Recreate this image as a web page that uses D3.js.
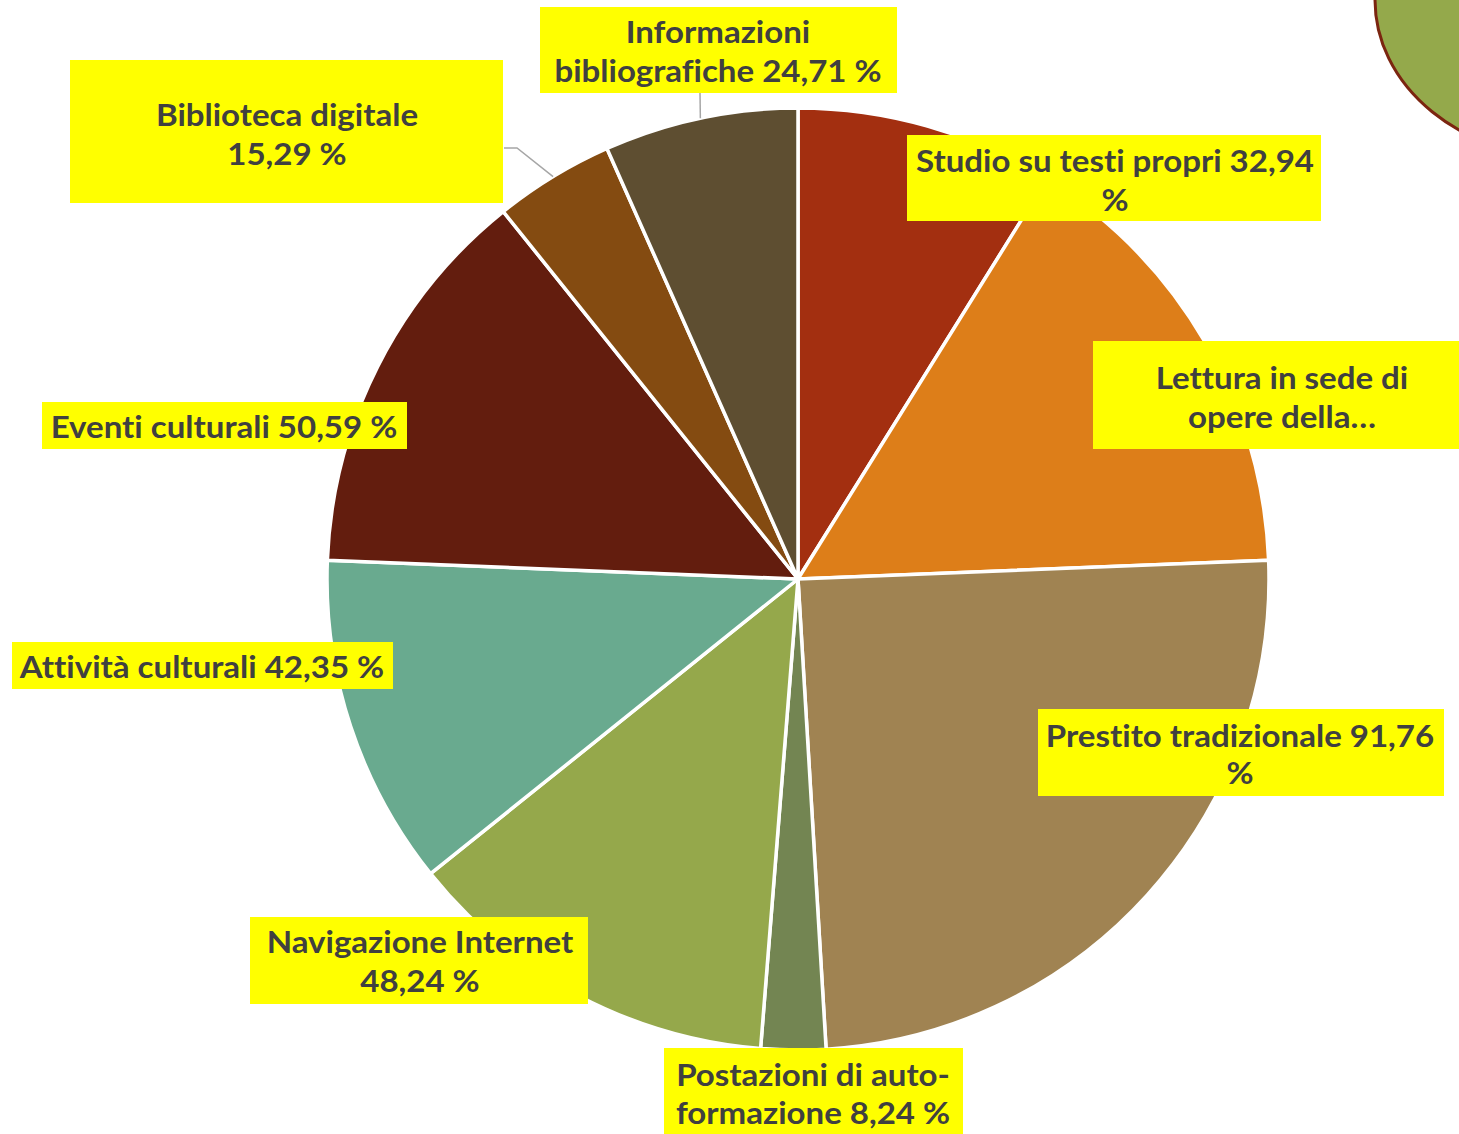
<!DOCTYPE html>
<html>
<head>
<meta charset="utf-8">
<script src="https://cdn.jsdelivr.net/npm/d3@7"></script>
<style>
  html, body { margin: 0; padding: 0; background: #ffffff; }
  svg { display: block; }
  svg text { font-variant-ligatures: none; font-feature-settings: "liga" 0, "clig" 0; }
</style>
</head>
<body>
<svg id="chart" width="1459" height="1134"></svg>
<script>
// Servizi utilizzati in biblioteca (% di risposte)
const categories = [
  "Studio su testi propri",
  "Lettura in sede di opere della biblioteca",
  "Prestito tradizionale",
  "Postazioni di auto-formazione",
  "Navigazione Internet",
  "Attività culturali",
  "Eventi culturali",
  "Biblioteca digitale",
  "Informazioni bibliografiche"
];
const values = [32.94, 57.65, 91.76, 8.24, 48.24, 42.35, 50.59, 15.29, 24.71];
const sliceColors = [
  "#a32f10", "#dd7e19", "#a08352", "#738552", "#95a84b",
  "#69aa8f", "#631d0e", "#844b11", "#5e4e31"
];

// Label text as it is wrapped inside each callout
const fmt = v => d3.format(".2f")(v).replace(".", ",");
const labelLines = [
  [`${categories[0]} ${fmt(values[0])}`, "%"],
  ["Lettura in sede di", "opere della…"],
  [`${categories[2]} ${fmt(values[2])}`, "%"],
  ["Postazioni di auto-", `formazione ${fmt(values[3])} %`],
  [categories[4], `${fmt(values[4])} %`],
  [`${categories[5]} ${fmt(values[5])} %`],
  [`${categories[6]} ${fmt(values[6])} %`],
  [categories[7], `${fmt(values[7])} %`],
  ["Informazioni", `bibliografiche ${fmt(values[8])} %`]
];

// Callout boxes: x, y, w, h, text centre x, first baseline, line step, leader
const boxes = [
  { x: 907,  y: 135,  w: 414, h: 86,  cx: 1115, by: 172,  step: 39 },
  { x: 1093, y: 341,  w: 366, h: 108, cx: 1282, by: 389,  step: 39 },
  { x: 1038, y: 709,  w: 406, h: 87,  cx: 1240, by: 747,  step: 37 },
  { x: 664,  y: 1048, w: 299, h: 86,  cx: 813,  by: 1086, step: 38 },
  { x: 250,  y: 917,  w: 338, h: 87,  cx: 420,  by: 953,  step: 39 },
  { x: 12,   y: 642,  w: 381, h: 47,  cx: 202,  by: 678,  step: 0 },
  { x: 42,   y: 402,  w: 365, h: 47,  cx: 224,  by: 438,  step: 0 },
  { x: 70,   y: 60,   w: 433, h: 143, cx: 287,  by: 126,  step: 39, leader: [[504, 148], [517, 148]] },
  { x: 540,  y: 7,    w: 357, h: 86,  cx: 718,  by: 43,   step: 39, leader: [[700, 93]] }
];

const svg = d3.select("#chart");
const cx = 798, cy = 579, R = 471;

// Decorative shape in the top-right corner
svg.append("ellipse")
  .attr("cx", 1570).attr("cy", 0)
  .attr("rx", 195).attr("ry", 158)
  .attr("fill", "#94a94b")
  .attr("stroke", "#7b2510")
  .attr("stroke-width", 3);

const data = categories.map((c, i) => ({ name: c, value: values[i], i }));

const pie = d3.pie().value(d => d.value).sort(null);
const arcs = pie(data);
const arc = d3.arc().innerRadius(0).outerRadius(R);

const g = svg.append("g").attr("transform", `translate(${cx},${cy})`);

g.selectAll("path.slice")
  .data(arcs)
  .join("path")
  .attr("class", "slice")
  .attr("d", arc)
  .attr("fill", d => sliceColors[d.data.i])
  .attr("stroke", "#ffffff")
  .attr("stroke-width", 3.5)
  .attr("stroke-linejoin", "round");

// Leader lines from the slice edge to its callout
arcs.forEach(a => {
  const b = boxes[a.data.i];
  if (!b.leader) return;
  const mid = (a.startAngle + a.endAngle) / 2;
  const edge = [cx + R * Math.sin(mid), cy - R * Math.cos(mid)];
  const pts = b.leader.concat([edge]);
  svg.append("path")
    .attr("d", d3.line()(pts))
    .attr("fill", "none")
    .attr("stroke", "#a6a6a6")
    .attr("stroke-width", 1.5);
});

// Callouts (text slightly widened to a geometric, wide letterform)
const widen = 1.065;
const labels = svg.append("g");
arcs.forEach(a => {
  const i = a.data.i;
  const b = boxes[i];
  const lg = labels.append("g");
  lg.append("rect")
    .attr("x", b.x).attr("y", b.y)
    .attr("width", b.w).attr("height", b.h)
    .attr("fill", "#ffff00");
  labelLines[i].forEach((line, k) => {
    const t = lg.append("text")
      .attr("x", b.cx)
      .attr("y", b.by + k * b.step)
      .attr("text-anchor", "middle")
      .attr("font-family", "Lato, 'Open Sans', sans-serif")
      .attr("font-weight", 700)
      .attr("font-size", 31)
      .attr("fill", "#404040")
      .text(line);
    const natural = t.node().getComputedTextLength();
    t.attr("textLength", natural * widen).attr("lengthAdjust", "spacingAndGlyphs");
  });
});
</script>
</body>
</html>
